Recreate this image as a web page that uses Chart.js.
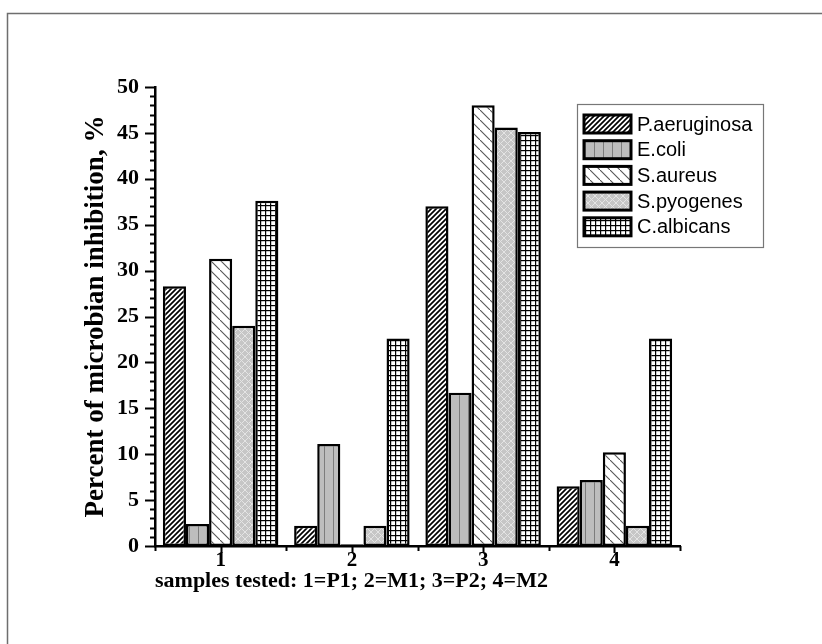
<!DOCTYPE html>
<html>
<head>
<meta charset="utf-8">
<script src="https://cdn.jsdelivr.net/npm/chart.js@4.4.1/dist/chart.umd.min.js"></script>
<style>
  html, body { margin: 0; padding: 0; background: #fff; }
  #wrap { width: 822px; height: 644px; position: relative; }
</style>
</head>
<body>
<div id="wrap"><canvas id="Chart"></canvas></div>
<script>
const categories = ["1", "2", "3", "4"];
const seriesNames = ["P.aeruginosa", "E.coli", "S.aureus", "S.pyogenes", "C.albicans"];
const pAeruginosa = [28.3, 2.2, 37.0, 6.5];
const eColi = [2.4, 11.1, 16.7, 7.2];
const sAureus = [31.3, 0.2, 48.0, 10.2];
const sPyogenes = [24.0, 2.2, 45.6, 2.2];
const cAlbicans = [37.6, 22.6, 45.1, 22.6];
const yTicks = [0, 5, 10, 15, 20, 25, 30, 35, 40, 45, 50];

const serif = '"Liberation Serif", "Times New Roman", serif';
const sans = '"Liberation Sans", Arial, sans-serif';

const ctx = document.getElementById("Chart").getContext("2d");

function makePattern(size, bg, draw) {
  const c = document.createElement("canvas");
  c.width = size;
  c.height = size;
  const g = c.getContext("2d");
  g.fillStyle = bg;
  g.fillRect(0, 0, size, size);
  draw(g, size);
  return ctx.createPattern(c, "repeat");
}

// hatch fills, one per series
const patterns = [
  makePattern(5, "#fff", (g, s) => {
    g.strokeStyle = "#000";
    g.lineWidth = 1.7;
    g.beginPath();
    g.moveTo(-1, s + 1); g.lineTo(s + 1, -1);
    g.moveTo(-1, 1); g.lineTo(1, -1);
    g.moveTo(s - 1, s + 1); g.lineTo(s + 1, s - 1);
    g.stroke();
  }),
  makePattern(9, "#bdbdbd", (g, s) => {
    g.fillStyle = "#7c7c7c";
    g.fillRect(0, 0, 1, s);
  }),
  makePattern(10, "#fff", (g, s) => {
    g.strokeStyle = "#555";
    g.lineWidth = 1.1;
    g.beginPath();
    g.moveTo(-1, -1); g.lineTo(s + 1, s + 1);
    g.stroke();
  }),
  makePattern(7, "#c6c6c6", (g, s) => {
    g.strokeStyle = "#e4e4e4";
    g.lineWidth = 1;
    g.beginPath();
    g.moveTo(0, 0); g.lineTo(s, s);
    g.moveTo(0, s); g.lineTo(s, 0);
    g.stroke();
  }),
  makePattern(5, "#fff", (g, s) => {
    g.fillStyle = "#000";
    g.fillRect(0, 0, s, 1.2);
    g.fillRect(0, 0, 1.2, s);
  }),
];

const values = [pAeruginosa, eColi, sAureus, sPyogenes, cAlbicans];
const datasets = values.map((v, i) => ({
  label: seriesNames[i],
  data: v,
  backgroundColor: patterns[i],
  borderColor: "#000",
  borderWidth: 2.5,
  borderSkipped: false,
  categoryPercentage: 0.88,
  barPercentage: 1.0,
}));

// white page with the grey frame
const framePlugin = {
  id: "frame",
  beforeDraw(chart) {
    const c = chart.ctx;
    c.save();
    c.fillStyle = "#fff";
    c.fillRect(0, 0, chart.width, chart.height);
    c.strokeStyle = "#6e6e6e";
    c.lineWidth = 1.5;
    c.strokeRect(7.5, 13.5, 840, 660);
    c.restore();
  },
};

// major + minor tick marks on both axes
const ticksPlugin = {
  id: "tickMarks",
  afterDraw(chart) {
    const c = chart.ctx;
    const x = chart.scales.x;
    const y = chart.scales.y;
    const ax = chart.chartArea.left;
    const ay = chart.chartArea.bottom;
    c.save();
    c.strokeStyle = "#000";
    c.lineWidth = 2;
    c.beginPath();
    for (let v = 0; v <= 50; v++) {
      const py = Math.round(y.getPixelForValue(v)) + 0.5;
      const len = v % 5 === 0 ? 10 : 5;
      c.moveTo(ax - len, py);
      c.lineTo(ax, py);
    }
    for (let i = 0; i < categories.length; i++) {
      const px = Math.round(x.getPixelForValue(i)) + 0.5;
      c.moveTo(px, ay);
      c.lineTo(px, ay + 7);
    }
    for (let i = 0; i <= categories.length; i++) {
      const px = Math.round(x.getPixelForValue(i - 0.5)) + 0.5;
      c.moveTo(px, ay);
      c.lineTo(px, ay + 5);
    }
    c.stroke();
    c.restore();
  },
};

// boxed legend inside the plot
const legendPlugin = {
  id: "boxLegend",
  afterDraw(chart) {
    const c = chart.ctx;
    c.save();
    c.strokeStyle = "#777";
    c.lineWidth = 1.2;
    c.strokeRect(577.5, 104.5, 186, 143);
    chart.data.datasets.forEach((ds, i) => {
      const cy = 124 + i * 25.7;
      c.fillStyle = ds.backgroundColor;
      c.fillRect(584, cy - 9, 47, 18);
      c.strokeStyle = "#000";
      c.lineWidth = 3;
      c.strokeRect(584, cy - 9, 47, 18);
      c.fillStyle = "#000";
      c.font = "20px " + sans;
      c.textBaseline = "middle";
      c.textAlign = "left";
      c.fillText(ds.label, 637, cy + 1);
    });
    c.restore();
  },
};

Chart.defaults.font.family = serif;

new Chart(ctx, {
  type: "bar",
  data: { labels: categories, datasets: datasets },
  plugins: [framePlugin, ticksPlugin, legendPlugin],
  options: {
    responsive: true,
    maintainAspectRatio: false,
    animation: false,
    layout: { padding: { top: 87, right: 142, bottom: 0, left: 0 } },
    plugins: {
      legend: { display: false },
      tooltip: { enabled: false },
    },
    scales: {
      x: {
        offset: true,
        grid: { display: false, drawTicks: false },
        border: { display: true, color: "#000", width: 2.5 },
        ticks: {
          color: "#000",
          padding: 2,
          font: { size: 21, weight: "bold", family: serif },
        },
        title: {
          display: true,
          align: "start",
          text: "samples tested: 1=P1; 2=M1; 3=P2; 4=M2",
          color: "#000",
          font: { size: 22, weight: "bold", family: serif },
          padding: { top: 0, bottom: 49 },
        },
        afterFit(scale) { scale.height = 98; },
      },
      y: {
        min: 0,
        max: 50,
        afterBuildTicks(scale) { scale.ticks = yTicks.map((v) => ({ value: v })); },
        grid: { display: false, drawTicks: false },
        border: { display: true, color: "#000", width: 2.5 },
        ticks: {
          color: "#000",
          padding: 16,
          font: { size: 22, weight: "bold", family: serif },
        },
        title: {
          display: true,
          text: "Percent of microbian inhibition, %",
          color: "#000",
          font: { size: 27, weight: "bold", family: serif },
          padding: { top: 80, bottom: 0 },
        },
        afterFit(scale) { scale.width = 155; },
      },
    },
  },
});
</script>
</body>
</html>
